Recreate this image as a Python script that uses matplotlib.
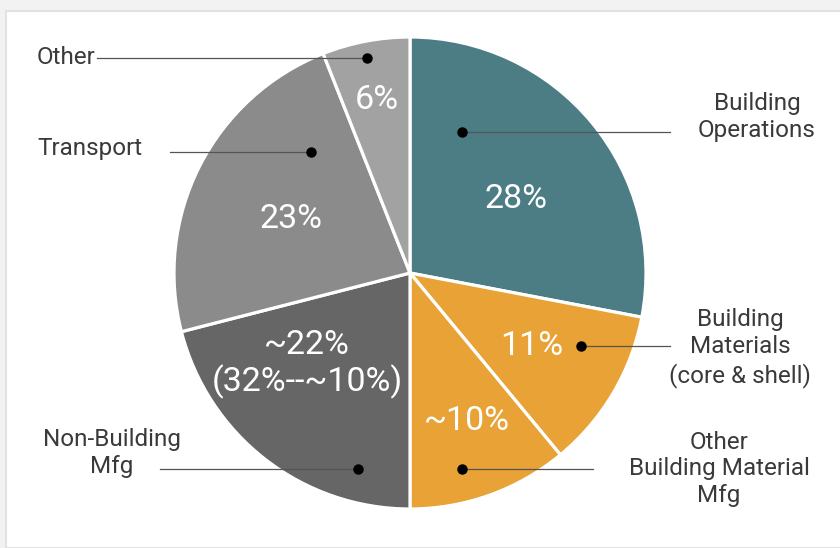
import matplotlib.pyplot as plt
from matplotlib.patches import Rectangle

# données (sens horaire depuis le haut)
categories = ['Building Operations', 'Building Materials (core & shell)',
              'Other Building Material Mfg', 'Non-Building Mfg', 'Transport', 'Other']
sizes = [28, 11, 11, 21, 23, 6]
pct_labels = ['28%', '11%', '~10%', '~22%\n(32%--~10%)', '23%', '6%']
names = ['Building\nOperations', 'Building\nMaterials\n(core & shell)',
         'Other\nBuilding Material\nMfg', 'Non-Building\nMfg', 'Transport', 'Other']
colors = ['#4c7d84', '#e8a236', '#e8a236', '#666666', '#8b8b8b', '#a2a2a2']

W, H = 840, 548
def Y(y):
    return H - y

fig = plt.figure(figsize=(W / 100, H / 100), dpi=100, facecolor='#f2f2f2')
fig.patches.append(Rectangle((6 / W, 0), 1, (H - 11) / H, transform=fig.transFigure,
                             facecolor='white', edgecolor='#e2e2e2', lw=1.5, zorder=-5))
ax = fig.add_axes([0, 0, 1, 1])
ax.patch.set_alpha(0)

cx, cy, r = 410, 273, 236
ax.pie(sizes, colors=colors, startangle=90, counterclock=False,
       center=(cx, Y(cy)), radius=r,
       wedgeprops=dict(edgecolor='white', linewidth=2.3))
ax.set_xlim(0, W)
ax.set_ylim(0, H)
ax.set_aspect('equal')
ax.axis('off')

# pourcentages
pct_pos = [(516, 199), (532, 346), (467, 421), (307, 364), (291, 219), (377, 100)]
for txt, (x, y) in zip(pct_labels, pct_pos):
    ax.text(x, Y(y), txt, color='white', fontsize=24.5, fontfamily='Roboto',
            ha='center', va='center', linespacing=1.1)

# étiquettes + lignes de rappel
dots = [(462, 132), (581, 346), (462, 469), (358, 469), (311, 152), (367, 58)]
line_ends = [670, 670, 593, 160, 170, 97]
lab_pos = [(757, 117, 'center'), (740, 348, 'center'), (719, 469, 'center'),
           (112, 453, 'center'), (37, 148, 'left'), (37, 57, 'left')]
for name, (dx, dy), lx, (tx, ty, ha) in zip(names, dots, line_ends, lab_pos):
    ax.plot([dx, lx], [Y(dy), Y(dy)], color='#555555', lw=0.9, zorder=3)
    ax.plot(dx, Y(dy), 'o', color='black', ms=6.5, zorder=4)
    ax.text(tx, Y(ty), name, color='#3a3a3a', fontsize=17.5, fontfamily='Roboto',
            ha=ha, va='center', multialignment='center', linespacing=1.22)

plt.savefig('out.png', dpi=100, facecolor=fig.get_facecolor())
